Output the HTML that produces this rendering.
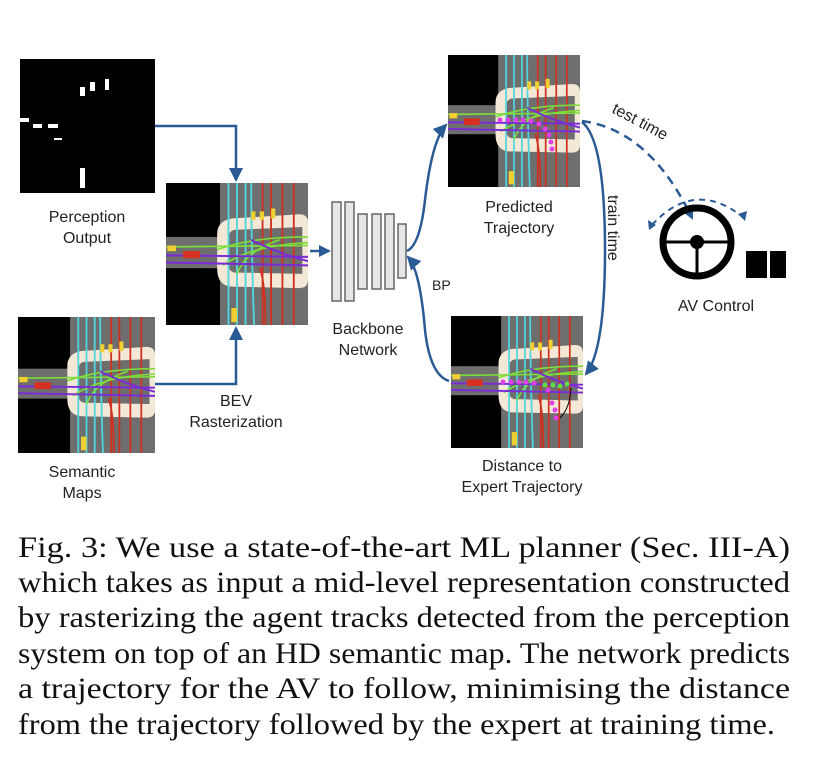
<!DOCTYPE html>
<html><head><meta charset="utf-8"><style>
html,body{margin:0;padding:0;background:#fff;}
svg{display:block;}
.s{font-family:"Liberation Sans",sans-serif;font-size:16px;fill:#222;}
.c{font-family:"Liberation Serif",serif;font-size:30px;fill:#111;}
</style></head><body>
<svg width="831" height="761" viewBox="0 0 831 761" xmlns="http://www.w3.org/2000/svg">
<defs>
<marker id="ah" markerWidth="12" markerHeight="12" refX="10" refY="6" orient="auto" markerUnits="userSpaceOnUse"><path d="M0,0 L12,6 L0,12 z" fill="#2a5a94"/></marker>
<marker id="ah2" markerWidth="14" markerHeight="14" refX="12" refY="7" orient="auto" markerUnits="userSpaceOnUse"><path d="M0,0 L14,7 L0,14 z" fill="#2a5a94"/></marker>
<g id="map">
<rect x="0" y="0" width="100" height="100" fill="#000"/>
<rect x="38" y="0" width="62" height="100" fill="#6e6e6e"/>
<rect x="0" y="38" width="40" height="22" fill="#6e6e6e"/>
<path d="M46,25 Q36,27 36,36 L36,60 Q36,72 46,73 L94,74 Q100,74 100,68 L100,28 Q100,22 94,22 Z" fill="#f3e7d6"/>
<path d="M48,33 L96,31 L96,64 L48,63 Q44,62 44,57 L44,39 Q44,34 48,33Z" fill="#6e6e6e"/>
<g stroke="#4fd6e0" stroke-width="1.3" fill="none"><path d="M44,0 V100"/><path d="M50,0 V100"/><path d="M56,0 V100"/><path d="M60,0 Q60,40 62,100"/></g>
<g stroke="#d03020" stroke-width="1.3" fill="none"><path d="M68,0 V100"/><path d="M74,0 V100"/><path d="M82,0 V100"/><path d="M90,0 V100"/><path d="M66,60 Q70,70 70,100"/></g>
<g stroke="#7ddc3a" stroke-width="1.2" fill="none"><path d="M0,45 L100,44"/><path d="M36,47 Q60,38 100,38"/><path d="M40,58 Q60,44 100,42"/><path d="M50,64 Q56,48 80,40"/></g>
<g stroke="#7a2ad8" stroke-width="1.4" fill="none"><path d="M0,51 L100,52"/><path d="M0,56 L100,58"/><path d="M60,40 Q80,50 100,55"/></g>
<path d="M12,48 h12 v5 h-12z" fill="#d83020"/>
<path d="M60,20 h3 v6 h-3z M66,20 h3 v6 h-3z M74,18 h3 v7 h-3z M1,44 h6 v4 h-6z M46,88 h4 v10 h-4z" fill="#f0d030"/>
</g>
</defs>

<rect x="20" y="59" width="135" height="134" fill="#000"/>
<g fill="#fff">
<rect x="80" y="87" width="5" height="9"/><rect x="90" y="82" width="5" height="9"/><rect x="105" y="79" width="4" height="11"/>
<rect x="20" y="118" width="9" height="4"/><rect x="33" y="124" width="9" height="4"/><rect x="48" y="124" width="10" height="4"/>
<rect x="54" y="138" width="8" height="2"/><rect x="80" y="168" width="5" height="20"/>
</g>
<text class="s" x="87" y="222" text-anchor="middle">Perception</text>
<text class="s" x="87" y="243" text-anchor="middle">Output</text>

<svg x="18" y="317" width="137" height="136" viewBox="0 0 100 100" preserveAspectRatio="none"><use href="#map"/></svg>
<text class="s" x="82" y="477" text-anchor="middle">Semantic</text>
<text class="s" x="82" y="498" text-anchor="middle">Maps</text>

<svg x="166" y="183" width="142" height="142" viewBox="0 0 100 100" preserveAspectRatio="none"><use href="#map"/></svg>
<text class="s" x="236" y="406" text-anchor="middle">BEV</text>
<text class="s" x="236" y="427" text-anchor="middle">Rasterization</text>

<path d="M155,126 H236 V180" fill="none" stroke="#2a5a94" stroke-width="2.5" marker-end="url(#ah2)"/>
<path d="M155,384 H236 V328" fill="none" stroke="#2a5a94" stroke-width="2.5" marker-end="url(#ah2)"/>
<path d="M310,251 H329" fill="none" stroke="#2a5a94" stroke-width="2.5" marker-end="url(#ah)"/>

<g fill="#e6e6e6" stroke="#666" stroke-width="1.5">
<rect x="332" y="202" width="9" height="99"/><rect x="345" y="202" width="9" height="99"/>
<rect x="358" y="214" width="9" height="75"/><rect x="372" y="214" width="9" height="75"/><rect x="385" y="214" width="9" height="75"/>
<rect x="398" y="224" width="8" height="54"/>
</g>
<text class="s" x="368" y="334" text-anchor="middle">Backbone</text>
<text class="s" x="368" y="355" text-anchor="middle">Network</text>

<svg x="448" y="55" width="132" height="132" viewBox="0 0 100 100" preserveAspectRatio="none"><use href="#map"/></svg>
<g fill="#e040e8"><circle cx="500" cy="120" r="2.5"/><circle cx="508" cy="120" r="2.5"/><circle cx="516" cy="120" r="2.5"/><circle cx="523" cy="120" r="2.5"/><circle cx="531" cy="121" r="2.5"/><circle cx="539" cy="124" r="2.5"/><circle cx="545" cy="129" r="2.5"/><circle cx="549" cy="135" r="2.5"/><circle cx="551" cy="142" r="2.5"/><circle cx="552" cy="149" r="2.5"/></g>
<text class="s" x="519" y="212" text-anchor="middle">Predicted</text>
<text class="s" x="519" y="233" text-anchor="middle">Trajectory</text>

<svg x="451" y="316" width="132" height="132" viewBox="0 0 100 100" preserveAspectRatio="none"><use href="#map"/></svg>
<g fill="#e040e8"><circle cx="503" cy="382" r="2.5"/><circle cx="511" cy="382" r="2.5"/><circle cx="519" cy="382" r="2.5"/><circle cx="526" cy="382" r="2.5"/><circle cx="534" cy="383" r="2.5"/><circle cx="548" cy="390" r="2.5"/><circle cx="552" cy="403" r="2.5"/><circle cx="555" cy="410" r="2.5"/><circle cx="556" cy="418" r="2.5"/></g>
<g fill="#60e040"><circle cx="545" cy="385" r="2.5"/><circle cx="553" cy="385" r="2.5"/><circle cx="560" cy="386" r="2.5"/><circle cx="567" cy="384" r="2.5"/></g>
<path d="M571,388 Q570,408 560,418" fill="none" stroke="#000" stroke-width="1"/>
<text class="s" x="522" y="471" text-anchor="middle">Distance to</text>
<text class="s" x="522" y="492" text-anchor="middle">Expert Trajectory</text>

<path d="M407,251 Q420,245 425,200 Q432,140 446,125" fill="none" stroke="#2a5a94" stroke-width="2.5" marker-end="url(#ah2)"/>
<path d="M449,381 Q430,375 425,330 Q420,270 408,257" fill="none" stroke="#2a5a94" stroke-width="2.5" marker-end="url(#ah2)"/>
<text class="s" x="432" y="290" style="font-size:14px">BP</text>

<path d="M582,122 Q605,140 605,250 Q605,350 586,374" fill="none" stroke="#2a5a94" stroke-width="2.5" marker-end="url(#ah2)"/>
<text class="s" transform="translate(608,195) rotate(90)">train time</text>

<path d="M582,121 Q650,130 692,218" fill="none" stroke="#2a5a94" stroke-width="2.5" stroke-dasharray="9,6" marker-end="url(#ah2)"/>
<text class="s" transform="translate(611,112) rotate(28)">test time</text>
<path d="M652,225 Q695,178 744,218" fill="none" stroke="#2a5a94" stroke-width="2" stroke-dasharray="6,5"/>
<path d="M649,230 l-1,-10 l8,5z" fill="#2a5a94"/>
<path d="M745,221 l2,-10 l-9,3z" fill="#2a5a94"/>

<circle cx="697" cy="242" r="34" fill="none" stroke="#000" stroke-width="7"/>
<circle cx="697" cy="242" r="7" fill="#000"/>
<path d="M663,242 H731 M697,242 V276" stroke="#000" stroke-width="3"/>
<rect x="746" y="251" width="21" height="27" fill="#000"/>
<rect x="770" y="251" width="16" height="27" fill="#000"/>
<text class="s" x="716" y="311" text-anchor="middle">AV Control</text>

<g class="c">
<text x="18" y="557" textLength="772" lengthAdjust="spacingAndGlyphs">Fig. 3: We use a state-of-the-art ML planner (Sec. III-A)</text>
<text x="18" y="592" textLength="772" lengthAdjust="spacingAndGlyphs">which takes as input a mid-level representation constructed</text>
<text x="18" y="627" textLength="772" lengthAdjust="spacingAndGlyphs">by rasterizing the agent tracks detected from the perception</text>
<text x="18" y="663" textLength="772" lengthAdjust="spacingAndGlyphs">system on top of an HD semantic map. The network predicts</text>
<text x="18" y="698" textLength="772" lengthAdjust="spacingAndGlyphs">a trajectory for the AV to follow, minimising the distance</text>
<text x="18" y="734" textLength="757" lengthAdjust="spacingAndGlyphs">from the trajectory followed by the expert at training time.</text>
</g>
</svg>
</body></html>
